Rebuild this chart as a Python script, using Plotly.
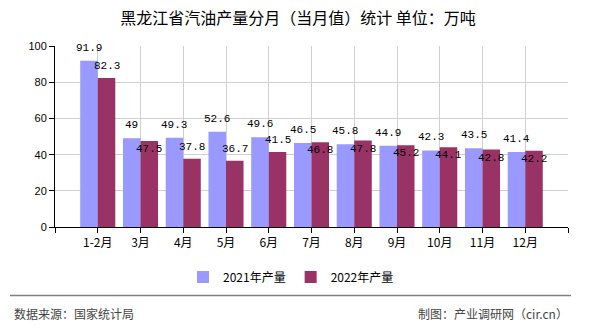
import plotly.graph_objects as go

categories = ["1-2月", "3月", "4月", "5月", "6月", "7月", "8月", "9月", "10月", "11月", "12月"]
values_2021 = [91.9, 49, 49.3, 52.6, 49.6, 46.5, 45.8, 44.9, 42.3, 43.5, 41.4]
values_2022 = [82.3, 47.5, 37.8, 36.7, 41.5, 46.8, 47.8, 45.2, 44.1, 42.8, 42.2]
series_names = ["2021年产量", "2022年产量"]
y_ticks = [0, 20, 40, 60, 80, 100]

BLUE = "#9999FF"
RED = "#993366"
GRID = "#d0d0d0"
BARGAP = 0.18

xs = list(range(len(categories)))

fig = go.Figure()
fig.add_trace(go.Bar(x=xs, y=values_2021, name=series_names[0], marker_color=BLUE,
                     marker_line_width=0))
fig.add_trace(go.Bar(x=xs, y=values_2022, name=series_names[1], marker_color=RED,
                     marker_line_width=0))

label_font = dict(family="Liberation Mono, DejaVu Sans Mono, monospace", size=11, color="#000000")
half = (1 - BARGAP) / 4
annotations = []
for i, (a, b) in enumerate(zip(values_2021, values_2022)):
    annotations.append(dict(x=i - half, y=a, xref="x", yref="y", text=str(a), showarrow=False,
                            font=label_font, yanchor="middle", yshift=13))
    shift = 12 if abs(a - b) > 5 else -8
    annotations.append(dict(x=i + half, y=b, xref="x", yref="y", text=str(b), showarrow=False,
                            font=label_font, yanchor="middle", yshift=shift))

# footer
foot_font = dict(family="Noto Sans CJK SC, sans-serif", size=12, color="#444444")
annotations.append(dict(x=(12 - 55) / 513, y=(229 - 316) / 183, xref="paper", yref="paper",
                        text="数据来源：国家统计局", showarrow=False, xanchor="left",
                        yanchor="middle", font=foot_font))
annotations.append(dict(x=(570 - 55) / 513, y=(229 - 316) / 183, xref="paper", yref="paper",
                        text="制图：产业调研网（cir.cn）", showarrow=False, xanchor="right",
                        yanchor="middle", font=foot_font))

fig.update_layout(
    width=590, height=330,
    margin=dict(l=55, r=22, t=46, b=101),
    paper_bgcolor="white", plot_bgcolor="white",
    barmode="group", bargap=BARGAP, bargroupgap=0,
    title=dict(text="黑龙江省汽油产量分月（当月值）统计 单位：万吨", x=298 / 590, xanchor="center",
               y=1 - 18 / 330, yanchor="middle", yref="container",
               font=dict(family="Noto Sans CJK SC, sans-serif", size=16, color="#000000")),
    xaxis=dict(range=[-1, len(categories)], tickmode="array",
               tickvals=list(range(-1, len(categories) + 1)),
               ticktext=[""] + categories + [""],
               showgrid=True, gridcolor=GRID, gridwidth=1,
               showline=True, linecolor="#000000", linewidth=1,
               ticks="outside", ticklen=5, tickcolor="#000000", zeroline=False,
               tickfont=dict(family="Noto Sans CJK SC, sans-serif", size=12, color="#000000")),
    yaxis=dict(range=[0, 100], tickvals=y_ticks, showgrid=True, gridcolor=GRID, gridwidth=1,
               showline=True, linecolor="#000000", linewidth=1,
               ticks="outside", ticklen=5, tickcolor="#000000", zeroline=False,
               tickfont=dict(family="Liberation Sans, Arial, sans-serif", size=11, color="#000000")),
    legend=dict(orientation="h", x=291 / 590, xanchor="center", xref="container",
                y=1 - 277 / 330, yanchor="middle", yref="container",
                font=dict(family="Noto Sans CJK SC, sans-serif", size=12, color="#000000"),
                itemwidth=30),
    annotations=annotations,
    shapes=[dict(type="line", xref="paper", yref="paper", x0=(10 - 55) / 513, x1=(571 - 55) / 513,
                 y0=(229 - 298) / 183, y1=(229 - 298) / 183,
                 line=dict(color="#808080", width=1.5))],
)

fig.write_html("out.html")
